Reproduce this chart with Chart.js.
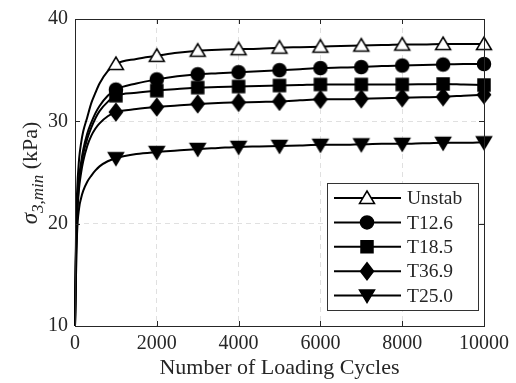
<!DOCTYPE html>
<html>
<head>
<meta charset="utf-8">
<script src="https://cdn.jsdelivr.net/npm/chart.js@4/dist/chart.umd.min.js"></script>
<style>
  html, body { margin: 0; padding: 0; background: #fff; }
  canvas { display: block; }
</style>
</head>
<body>
<canvas id="chart" width="516" height="383"></canvas>
<script>
const cycles = [0, 25, 50, 100, 150, 200, 300, 400, 500, 600, 800, 1000, 1500, 2000, 2500, 3000, 3500, 4000, 4500, 5000, 5500, 6000, 6500, 7000, 7500, 8000, 8500, 9000, 9500, 10000];

const unstab = [10, 19, 23, 26.3, 27.9, 29, 30.4, 31.8, 32.8, 33.7, 34.9, 35.6, 36.1, 36.4, 36.7, 36.9, 37.0, 37.05, 37.1, 37.2, 37.25, 37.3, 37.35, 37.4, 37.45, 37.5, 37.5, 37.55, 37.55, 37.55];
const t126 = [10, 18, 21.5, 24.5, 26, 27.2, 28.8, 29.9, 30.8, 31.5, 32.5, 33.1, 33.7, 34.1, 34.4, 34.6, 34.7, 34.8, 34.9, 35.0, 35.1, 35.2, 35.25, 35.3, 35.4, 35.45, 35.5, 35.55, 35.6, 35.6];
const t185 = [10, 17.5, 21, 24, 25.6, 26.8, 28.3, 29.4, 30.3, 31, 31.9, 32.5, 32.8, 33.0, 33.15, 33.3, 33.35, 33.4, 33.45, 33.5, 33.55, 33.6, 33.6, 33.6, 33.6, 33.6, 33.62, 33.65, 33.6, 33.55];
const t369 = [10, 17, 20.5, 23.5, 25, 26.1, 27.6, 28.6, 29.3, 29.8, 30.5, 30.9, 31.2, 31.4, 31.55, 31.7, 31.8, 31.85, 31.9, 31.95, 32.05, 32.15, 32.15, 32.2, 32.25, 32.3, 32.35, 32.4, 32.5, 32.6];
const t250 = [10, 15, 19, 21.5, 22.5, 23.2, 24.1, 24.7, 25.2, 25.6, 26.1, 26.4, 26.8, 27.0, 27.15, 27.3, 27.4, 27.5, 27.55, 27.6, 27.65, 27.7, 27.7, 27.75, 27.8, 27.8, 27.85, 27.9, 27.9, 27.95];

const seriesNames = ["Unstab", "T12.6", "T18.5", "T36.9", "T25.0"];
const seriesValues = [unstab, t126, t185, t369, t250];
const markerShapes = ["triUp", "circle", "square", "diamond", "triDown"];

const xTicks = [0, 2000, 4000, 6000, 8000, 10000];
const yTicks = [10, 20, 30, 40];

const ink = "#262626";
const serif = "'Liberation Serif', 'Times New Roman', serif";

function drawShape(g, shape, cx, cy) {
    g.beginPath();
    if (shape === "triUp") {
        g.moveTo(cx, cy - 7); g.lineTo(cx + 7.5, cy + 5.5); g.lineTo(cx - 7.5, cy + 5.5); g.closePath();
    } else if (shape === "triDown") {
        g.moveTo(cx, cy + 7); g.lineTo(cx + 7.5, cy - 5.5); g.lineTo(cx - 7.5, cy - 5.5); g.closePath();
    } else if (shape === "circle") {
        g.arc(cx, cy, 6.5, 0, Math.PI * 2);
    } else if (shape === "square") {
        g.rect(cx - 6, cy - 6, 12, 12);
    } else if (shape === "diamond") {
        g.moveTo(cx, cy - 8.5); g.lineTo(cx + 6.5, cy); g.lineTo(cx, cy + 8.5); g.lineTo(cx - 6.5, cy); g.closePath();
    }
    g.fillStyle = shape === "triUp" ? "#fff" : "#000";
    g.fill();
    g.lineWidth = 1.5;
    g.strokeStyle = "#000";
    g.stroke();
}

function makeMarker(shape) {
    const c = document.createElement("canvas");
    c.width = 20; c.height = 20;
    drawShape(c.getContext("2d"), shape, 10, 10);
    return c;
}

const datasets = seriesNames.map((name, i) => ({
    label: name,
    data: cycles.map((c, j) => ({ x: c, y: seriesValues[i][j] })),
    borderColor: "#000",
    borderWidth: 2,
    cubicInterpolationMode: "monotone",
    pointStyle: makeMarker(markerShapes[i]),
    pointRadius: cycles.map(c => (c > 0 && c % 1000 === 0) ? 6 : 0),
    pointHoverRadius: 0,
    clip: false
}));

const framePlugin = {
    id: "frame",
    afterDatasetsDraw(chart) {
        const ctx = chart.ctx;
        const a = chart.chartArea;
        const xs = chart.scales.x, ys = chart.scales.y;
        ctx.save();
        ctx.strokeStyle = ink;
        ctx.lineWidth = 1;
        // inner ticks
        ctx.beginPath();
        xTicks.forEach(t => {
            const px = Math.round(xs.getPixelForValue(t)) + 0.5;
            ctx.moveTo(px, a.bottom); ctx.lineTo(px, a.bottom - 5);
            ctx.moveTo(px, a.top); ctx.lineTo(px, a.top + 5);
        });
        yTicks.forEach(t => {
            const py = Math.round(ys.getPixelForValue(t)) + 0.5;
            ctx.moveTo(a.left, py); ctx.lineTo(a.left + 5, py);
            ctx.moveTo(a.right, py); ctx.lineTo(a.right - 5, py);
        });
        ctx.stroke();
        ctx.strokeRect(Math.round(a.left) + 0.5, Math.round(a.top) + 0.5, Math.round(a.right - a.left), Math.round(a.bottom - a.top));

        // legend box
        const lx = 327, ly = 183, lw = 151, lh = 127;
        ctx.fillStyle = "#fff";
        ctx.fillRect(lx, ly, lw, lh);
        ctx.strokeStyle = "#333";
        ctx.strokeRect(lx + 0.5, ly + 0.5, lw, lh);
        ctx.font = "19.5px " + serif;
        ctx.textBaseline = "middle";
        ctx.textAlign = "left";
        seriesNames.forEach((name, i) => {
            const yy = 198 + i * 24.4;
            ctx.strokeStyle = "#000";
            ctx.lineWidth = 2;
            ctx.beginPath();
            ctx.moveTo(334, yy); ctx.lineTo(401, yy);
            ctx.stroke();
            drawShape(ctx, markerShapes[i], 367, yy);
            ctx.fillStyle = ink;
            ctx.fillText(name, 407, yy + 1);
        });

        // axis titles
        ctx.fillStyle = ink;
        ctx.font = "22px " + serif;
        ctx.textAlign = "center";
        ctx.textBaseline = "alphabetic";
        ctx.fillText("Number of Loading Cycles", (a.left + a.right) / 2, 374);

        ctx.translate(37, 173);
        ctx.rotate(-Math.PI / 2);
        const p1 = "\u03C3", p2 = "3,min", p3 = " (kPa)";
        ctx.font = "italic 23px " + serif;
        const w1 = ctx.measureText(p1).width;
        ctx.font = "italic 17px " + serif;
        const w2 = ctx.measureText(p2).width;
        ctx.font = "22px " + serif;
        const w3 = ctx.measureText(p3).width;
        let x0 = -(w1 + w2 + w3) / 2;
        ctx.textAlign = "left";
        ctx.font = "italic 23px " + serif;
        ctx.fillText(p1, x0, 0);
        ctx.font = "italic 17px " + serif;
        ctx.fillText(p2, x0 + w1, 6);
        ctx.font = "22px " + serif;
        ctx.fillText(p3, x0 + w1 + w2, 0);
        ctx.restore();
    }
};

new Chart(document.getElementById("chart"), {
    type: "line",
    data: { datasets: datasets },
    options: {
        responsive: false,
        animation: false,
        devicePixelRatio: 1,
        layout: { padding: { top: 13, right: 32, left: 0, bottom: 0 } },
        plugins: { legend: { display: false }, tooltip: { enabled: false } },
        scales: {
            x: {
                type: "linear",
                min: 0, max: 10000,
                afterBuildTicks: s => { s.ticks = xTicks.map(v => ({ value: v })); },
                afterFit: s => { s.height = 57; },
                ticks: { color: ink, font: { family: serif, size: 20 }, padding: 6, maxRotation: 0, callback: v => String(v) },
                grid: { color: "#e0e0e0", drawTicks: false, lineWidth: 1 },
                border: { display: false, dash: [5, 4] }
            },
            y: {
                min: 10, max: 40,
                afterBuildTicks: s => { s.ticks = yTicks.map(v => ({ value: v })); },
                afterFit: s => { s.width = 75; },
                ticks: { color: ink, font: { family: serif, size: 20 }, padding: 7, callback: v => String(v) },
                grid: { color: "#e0e0e0", drawTicks: false, lineWidth: 1 },
                border: { display: false, dash: [5, 4] }
            }
        }
    },
    plugins: [framePlugin]
});
</script>
</body>
</html>
